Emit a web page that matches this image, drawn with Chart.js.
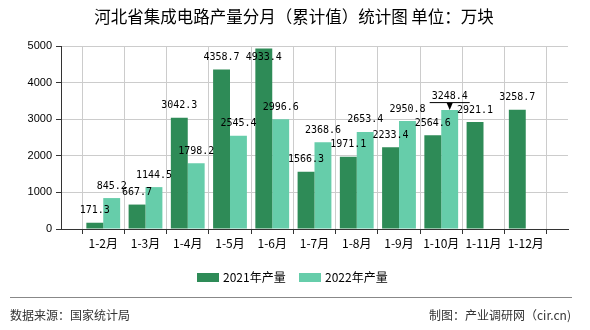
<!DOCTYPE html>
<html>
<head>
<meta charset="utf-8">
<script src="https://cdn.jsdelivr.net/npm/chart.js@4/dist/chart.umd.min.js"></script>
<style>
    html, body { margin: 0; padding: 0; background: #fff; }
    #wrap { width: 590px; height: 330px; position: relative; }
</style>
</head>
<body>
<div id="wrap"><canvas id="myChart" width="590" height="330"></canvas></div>
<script>
const titleText = '河北省集成电路产量分月（累计值）统计图 单位：万块';
const months = ['1-2月', '1-3月', '1-4月', '1-5月', '1-6月', '1-7月', '1-8月', '1-9月', '1-10月', '1-11月', '1-12月'];
const output2021 = [171.3, 667.7, 3042.3, 4358.7, 4933.4, 1566.3, 1971.1, 2233.4, 2564.6, 2921.1, 3258.7];
const output2022 = [845.2, 1144.5, 1798.2, 2545.4, 2996.6, 2368.6, 2653.4, 2950.8, 3248.4, null, null];
const seriesNames = ['2021年产量', '2022年产量'];
const yTicks = [0, 1000, 2000, 3000, 4000, 5000];
const sourceText = '数据来源：国家统计局';
const makerText = '制图：产业调研网（cir.cn)';

const darkGreen = '#2E8B57';
const lightGreen = '#66CDAA';
const cjk = '"Noto Sans CJK SC", "Noto Sans", sans-serif';

// empty slot at both ends so bars sit on the grid lines
const labels = [''].concat(months, ['']);
const pad = arr => [null].concat(arr, [null]);

const decorPlugin = {
    id: 'decor',
    afterDatasetsDraw(chart) {
        const ctx = chart.ctx;
        const top = chart.chartArea.top;
        ctx.save();
        ctx.font = '10px "DejaVu Sans Mono", monospace';
        ctx.fillStyle = '#000';
        ctx.textAlign = 'center';
        ctx.textBaseline = 'middle';

        let maxVal = Math.max(...output2022.filter(v => v != null));

        chart.data.datasets.forEach((ds, di) => {
            const meta = chart.getDatasetMeta(di);
            meta.data.forEach((bar, i) => {
                const v = ds.data[i];
                if (v == null) return;
                const txt = v.toFixed(1);
                if (di == 1 && v == maxVal) {
                    ctx.fillText(txt, bar.x, bar.y - 14);
                    ctx.strokeStyle = '#000';
                    ctx.lineWidth = 1;
                    ctx.beginPath();
                    ctx.moveTo(bar.x - 20, bar.y - 7.5);
                    ctx.lineTo(bar.x + 20, bar.y - 7.5);
                    ctx.stroke();
                    ctx.beginPath();
                    ctx.moveTo(bar.x - 3, bar.y - 7);
                    ctx.lineTo(bar.x + 3, bar.y - 7);
                    ctx.lineTo(bar.x, bar.y);
                    ctx.closePath();
                    ctx.fill();
                } else {
                    // keep labels inside the plot area
                    ctx.fillText(txt, bar.x, Math.max(bar.y - 12, top + 11));
                }
            });
        });
        ctx.restore();
    },
    afterDraw(chart) {
        const ctx = chart.ctx;
        ctx.save();

        // title
        ctx.fillStyle = '#000';
        ctx.font = '16.5px ' + cjk;
        ctx.textAlign = 'center';
        ctx.textBaseline = 'middle';
        ctx.fillText(titleText, 294, 17);

        // legend
        ctx.font = '12px ' + cjk;
        ctx.textAlign = 'left';
        ctx.fillStyle = darkGreen;
        ctx.fillRect(197, 273, 22, 9);
        ctx.fillStyle = '#000';
        ctx.fillText(seriesNames[0], 223, 277.5);
        ctx.fillStyle = lightGreen;
        ctx.fillRect(299, 273, 22, 9);
        ctx.fillStyle = '#000';
        ctx.fillText(seriesNames[1], 325, 277.5);

        // footer
        ctx.strokeStyle = '#888';
        ctx.lineWidth = 1;
        ctx.beginPath();
        ctx.moveTo(10, 297.5);
        ctx.lineTo(572, 297.5);
        ctx.stroke();

        ctx.fillStyle = '#333';
        ctx.font = '12px ' + cjk;
        ctx.textAlign = 'left';
        ctx.fillText(sourceText, 10, 315);
        ctx.textAlign = 'right';
        ctx.fillText(makerText, 571, 315);

        ctx.restore();
    }
};

const ctx = document.getElementById('myChart');

const myChart = new Chart(ctx, {
    type: 'bar',
    data: {
        labels: labels,
        datasets: [
            {
                label: seriesNames[0],
                data: pad(output2021),
                backgroundColor: darkGreen,
                barPercentage: 1,
                categoryPercentage: 0.8
            },
            {
                label: seriesNames[1],
                data: pad(output2022),
                backgroundColor: lightGreen,
                barPercentage: 1,
                categoryPercentage: 0.8
            }
        ]
    },
    options: {
        responsive: false,
        animation: false,
        layout: {
            padding: { left: 0, top: 46, right: 22, bottom: 81 }
        },
        plugins: {
            legend: { display: false },
            title: { display: false },
            tooltip: { enabled: false }
        },
        scales: {
            x: {
                offset: false,
                afterFit(scale) { scale.height = 20; },
                grid: {
                    color: '#ccc',
                    tickColor: '#333',
                    tickLength: 5
                },
                border: { color: '#333', width: 1 },
                ticks: {
                    autoSkip: false,
                    maxRotation: 0,
                    minRotation: 0,
                    padding: 2,
                    color: '#000',
                    font: { size: 12, family: cjk }
                }
            },
            y: {
                min: 0,
                max: 5000,
                afterFit(scale) { scale.width = 61; },
                afterBuildTicks(scale) {
                    scale.ticks = yTicks.map(v => ({ value: v }));
                },
                grid: {
                    color: '#ccc',
                    tickColor: '#333',
                    tickLength: 5
                },
                border: { color: '#333', width: 1 },
                ticks: {
                    padding: 4,
                    color: '#000',
                    font: { size: 11, family: '"Liberation Sans", sans-serif' },
                    callback: v => String(v)
                }
            }
        }
    },
    plugins: [decorPlugin]
});
</script>
</body>
</html>
